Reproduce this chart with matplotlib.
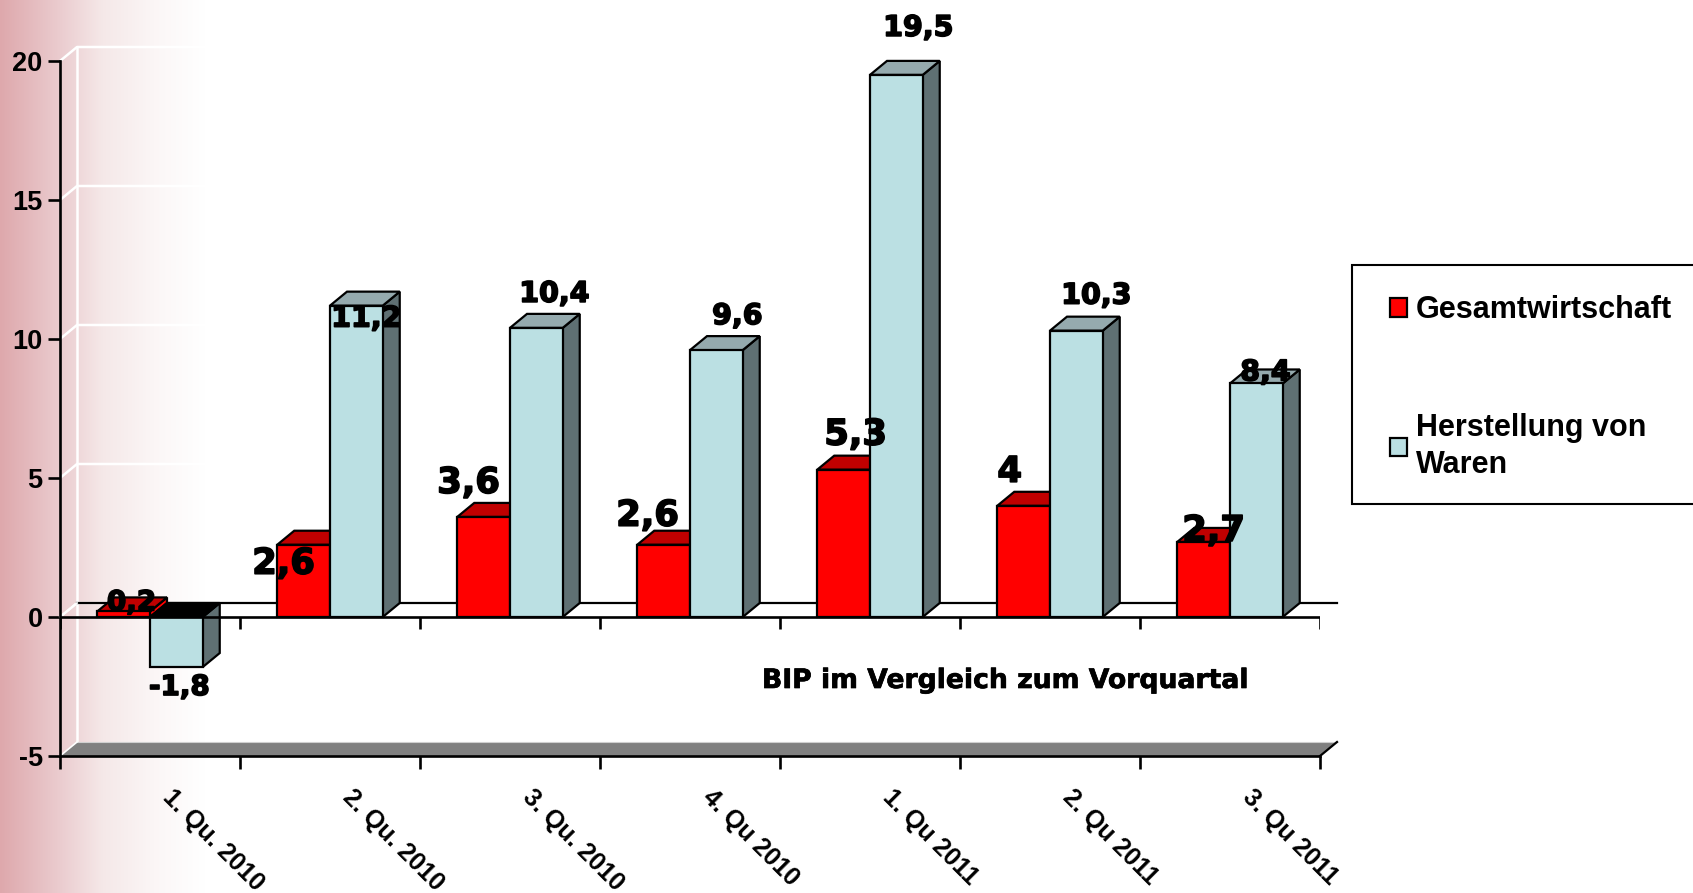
import numpy as np
import matplotlib
matplotlib.use("Agg")
import matplotlib.pyplot as plt
import matplotlib.patheffects as pe
from matplotlib.colors import LinearSegmentedColormap
from matplotlib.patches import Rectangle
from matplotlib.transforms import ScaledTranslation

# ---- data ----
quarters = ["1. Qu. 2010", "2. Qu. 2010", "3. Qu. 2010", "4. Qu 2010",
            "1. Qu 2011", "2. Qu 2011", "3. Qu 2011"]
gesamt = [0.2, 2.6, 3.6, 2.6, 5.3, 4.0, 2.7]
waren = [-1.8, 11.2, 10.4, 9.6, 19.5, 10.3, 8.4]
gesamt_labels = ["0,2", "2,6", "3,6", "2,6", "5,3", "4", "2,7"]
waren_labels = ["-1,8", "11,2", "10,4", "9,6", "19,5", "10,3", "8,4"]
y_ticks = [-5, 0, 5, 10, 15, 20]

# ---- label placement (pixel offsets from the bar top) ----
gesamt_off = [(8, 9), (-20, -19), (-15, 34), (-16, 29), (12, 35), (-14, 34), (10, 11)]
waren_off = [(3, -20), (10, -13), (18, 34), (21, 34), (22, 47), (20, 35), (9, 11)]
gesamt_size = [20, 25.5, 25.5, 25.5, 25.5, 25.5, 25.5]
waren_size = [20, 20.5, 20.5, 20.5, 20.5, 20.5, 20.5]

# ---- style ----
W, H = 1693, 893
PX_LEFT, PX_RIGHT, PX_TOP, PX_BOTTOM = 60, 1320, 61, 756
BAR_W = 0.293
RED, RED_TOP = "#FF0000", "#C00000"
BLUE, BLUE_TOP, BLUE_SIDE = "#BBE0E3", "#95AAAE", "#5F7073"
LW = 1.6
AXLW = 1.9
heavy = [pe.withStroke(linewidth=1.2, foreground="black")]

plt.rcParams["font.family"] = ["Liberation Sans", "DejaVu Sans"]
fig = plt.figure(figsize=(W / 100, H / 100), dpi=100, facecolor="white")

# background gradient
bg = fig.add_axes([0, 0, 1, 1], zorder=-1)
cmap = LinearSegmentedColormap.from_list(
    "g", [(0, "#DEA8AC"), (0.3, "#EBCDD0"), (0.5, "#F5E8E8"), (0.75, "#FBF6F6"), (1, "#FFFFFF")])
bg.imshow(np.linspace(0, 1, 256)[None, :], aspect="auto", cmap=cmap, extent=[0, 205, 0, 1])
bg.set_xlim(0, W)
bg.axis("off")

ax = fig.add_axes([PX_LEFT / W, 1 - PX_BOTTOM / H, (PX_RIGHT - PX_LEFT) / W, (PX_BOTTOM - PX_TOP) / H])
ax.patch.set_alpha(0)
ax.set_xlim(0, 7)
ax.set_ylim(-5, 20)
DX = 17 / 180            # depth in x data units
DY = 14 / ((PX_BOTTOM - PX_TOP) / 25)  # depth in y data units

# back wall: white grid, floor, back zero line
for t in y_ticks[1:]:
    ax.plot([0, DX, 1.1], [t, t + DY, t + DY], color="white", lw=1.8, clip_on=False, zorder=1)
ax.plot([DX, DX], [-5 + DY, 20 + DY], color="white", lw=1.8, clip_on=False, zorder=1)
ax.fill([0, DX, 7 + DX, 7], [-5, -5 + DY, -5 + DY, -5], facecolor="#808080", edgecolor="none",
        clip_on=False, zorder=2)
ax.plot([DX, 7 + DX], [-5 + DY, -5 + DY], color="#D0D0D0", lw=0.8, clip_on=False, zorder=2)
ax.plot([0, DX], [-5, -5 + DY], color="white", lw=1.2, clip_on=False, zorder=2)
ax.plot([7, 7 + DX], [-5, -5 + DY], color="black", lw=LW, clip_on=False, zorder=2)
ax.plot([DX, 7 + DX], [DY, DY], color="black", lw=LW, clip_on=False, zorder=2)
ax.plot([0, DX], [0, DY], color="white", lw=1.4, clip_on=False, zorder=2)


def box(x0, v, front, top, side, z):
    x1 = x0 + BAR_W
    h = max(v, 0)
    low = min(v, 0)
    ax.fill([x1, x1 + DX, x1 + DX, x1], [low, low + DY, h + DY, h], facecolor=side,
            edgecolor="black", lw=LW, clip_on=False, zorder=z)
    ax.fill([x0, x0 + DX, x1 + DX, x1], [h, h + DY, h + DY, h], facecolor=top,
            edgecolor="black", lw=LW, clip_on=False, zorder=z)
    return ax.bar(x0, v, BAR_W, align="edge", color=front, edgecolor="black", lw=LW,
                  clip_on=False, zorder=z + 0.1)


handles = []
for i, (g, w) in enumerate(zip(gesamt, waren)):
    c = i + 0.5
    h1 = box(c - BAR_W, g, RED, RED_TOP, RED, 3 + i * 0.01)
    wtop = BLUE_TOP if w > 0 else "black"
    h2 = box(c, w, BLUE, wtop, BLUE_SIDE, 3.5 + i * 0.01)
    if i == 0:
        handles = [h1, h2]

# zero axis with its ticks
ax.hlines(0, 0, 7, color="black", lw=AXLW, zorder=4)
ax.vlines(range(8), -12 / 27.8, 0, color="black", lw=AXLW, zorder=4)

# value labels
for i in range(7):
    for vals, labs, off, size, pos in ((gesamt, gesamt_labels, gesamt_off, gesamt_size, -BAR_W / 2),
                                       (waren, waren_labels, waren_off, waren_size, BAR_W / 2)):
        ax.annotate(labs[i], (i + 0.5 + pos, vals[i]), xytext=off[i],
                    textcoords="offset pixels", ha="center", va="center", fontsize=size[i],
                    fontweight="bold", family="DejaVu Sans", color="black", zorder=6,
                    annotation_clip=False, path_effects=heavy)

# axes
for s in ["top", "right"]:
    ax.spines[s].set_visible(False)
for s in ["left", "bottom"]:
    ax.spines[s].set_linewidth(AXLW)
    ax.spines[s].set_zorder(5)
ax.set_yticks(y_ticks)
ax.set_yticklabels([str(t) for t in y_ticks], fontsize=19.5, fontweight="bold")
ax.tick_params(axis="y", length=9, width=AXLW, pad=3.5)
ax.set_xticks(range(8))
ax.set_xticklabels([])
ax.tick_params(axis="x", which="major", length=9, width=AXLW)
ax.set_xticks([i + 0.5 for i in range(7)], quarters, minor=True, rotation=-45,
              ha="left", va="top", rotation_mode="anchor", fontsize=18, fontweight="bold")
ax.tick_params(axis="x", which="minor", length=0, pad=21)
shift = ScaledTranslation(25 / 100, 0, fig.dpi_scale_trans)
for lab in ax.get_xticklabels(minor=True):
    lab.set_transform(lab.get_transform() + shift)

# caption
fig.text(1005 / W, 1 - 681 / H, "BIP im Vergleich zum Vorquartal", ha="center", va="center",
         fontsize=19.2, fontweight="bold", family="DejaVu Sans",
         path_effects=[pe.withStroke(linewidth=0.5, foreground="black")])

# legend box and entries
fig.add_artist(Rectangle((1352 / W, 1 - 504 / H), 360 / W, 239 / H, transform=fig.transFigure,
                         facecolor="white", edgecolor="black", lw=1.5, zorder=6))
leg = ax.legend([handles[0][0], handles[1][0]], ["Gesamtwirtschaft", "Herstellung von\nWaren"],
                loc="upper left", bbox_to_anchor=(1390 / W, 1 - 295.5 / H), bbox_transform=fig.transFigure,
                borderaxespad=0, labelspacing=2.85, borderpad=0, handlelength=0.56,
                handleheight=0.56, handletextpad=0.28, frameon=False,
                prop={"weight": "bold", "size": 22})
leg.set_zorder(7)
leg.remove()
fig.add_artist(leg)
for t in leg.get_texts():
    t.set_linespacing(1.32)

fig.savefig("out.png", dpi=100)
